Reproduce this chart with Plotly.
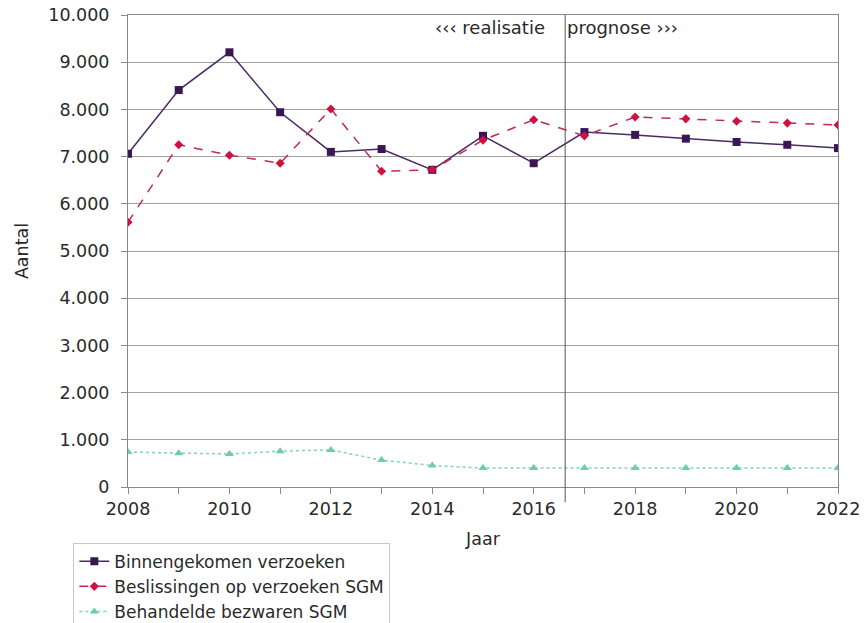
import plotly.graph_objects as go

years = list(range(2008, 2023))
binnengekomen = [7060, 8410, 9210, 7940, 7100, 7160, 6720, 7440, 6860, 7520, 7460, 7380, 7310, 7250, 7180]
beslissingen = [5610, 7250, 7030, 6860, 8010, 6690, 6720, 7350, 7780, 7440, 7840, 7800, 7750, 7710, 7670]
bezwaren = [740, 715, 700, 760, 785, 570, 455, 400, 400, 400, 400, 400, 400, 400, 400]
names = ["Binnengekomen verzoeken", "Beslissingen op verzoeken SGM", "Behandelde bezwaren SGM"]
split_year = 2016.62

FONT = "DejaVu Sans"
TXT = "#2a2a2a"
AX = "#8a8a8a"
fig = go.Figure()
fig.add_trace(go.Scatter(x=years, y=binnengekomen, name=names[0], mode="lines+markers",
                         line=dict(color="#4a2a63", width=1.5),
                         marker=dict(symbol="square", size=8, color="#3b1657")))
fig.add_trace(go.Scatter(x=years, y=beslissingen, name=names[1], mode="lines+markers",
                         line=dict(color="#c0285a", width=1.5, dash="dash"),
                         marker=dict(symbol="diamond", size=7, color="#d0103f")))
fig.add_trace(go.Scatter(x=years, y=bezwaren, name=names[2], mode="lines+markers",
                         line=dict(color="#7fd6b0", width=1.5, dash="dot"),
                         marker=dict(symbol="triangle-up", size=8, color="#6ccfa3")))

fig.add_shape(type="line", x0=split_year, x1=split_year, xref="x", yref="paper", y0=-0.032, y1=1,
              line=dict(color="#555555", width=1))
fig.add_annotation(x=split_year, y=0.973, xref="x", yref="paper", text="‹‹‹ realisatie",
                   showarrow=False, xanchor="right", yanchor="middle", xshift=-18,
                   font=dict(family=FONT, size=18, color=TXT))
fig.add_annotation(x=split_year, y=0.973, xref="x", yref="paper", text="prognose ›››",
                   showarrow=False, xanchor="left", yanchor="middle", xshift=0,
                   font=dict(family=FONT, size=18, color=TXT))

fig.update_layout(
    width=864, height=623,
    margin=dict(l=128, r=26, t=15, b=136, autoexpand=False),
    paper_bgcolor="white", plot_bgcolor="white",
    separators=",.",
    font=dict(family=FONT, size=17.5, color=TXT),
    showlegend=True,
    legend=dict(x=-0.077, y=-0.118, xanchor="left", yanchor="top",
                bordercolor="#c8c8c8", borderwidth=1, bgcolor="white",
                font=dict(family=FONT, size=17), tracegroupgap=0),
    xaxis=dict(range=[2008, 2022], tickmode="array", tickvals=list(range(2008, 2023, 2)),
               showgrid=False, showline=True, linecolor=AX, linewidth=1, mirror=True,
               ticks="outside", ticklen=6, tickcolor=AX, ticklabeloverflow="allow",
               minor=dict(ticks="outside", tickvals=years, ticklen=6, tickcolor=AX),
               title=dict(text="Jaar", font=dict(size=17.5), standoff=14),
               tickfont=dict(size=17.5), zeroline=False, automargin=False),
    yaxis=dict(range=[0, 10000], dtick=1000, tickformat=",d",
               showgrid=True, gridcolor="#a0a0a0", gridwidth=1,
               showline=True, linecolor=AX, linewidth=1, mirror=True,
               ticks="outside", ticklen=6, tickcolor=AX, ticklabelstandoff=8,
               ticklabeloverflow="allow",
               title=dict(text="Aantal", font=dict(size=17.5), standoff=15),
               tickfont=dict(size=17.5), zeroline=False, automargin=False),
)
fig.write_html("out.html", config={"displayModeBar": False},
               post_script="document.body.style.margin='0';")
